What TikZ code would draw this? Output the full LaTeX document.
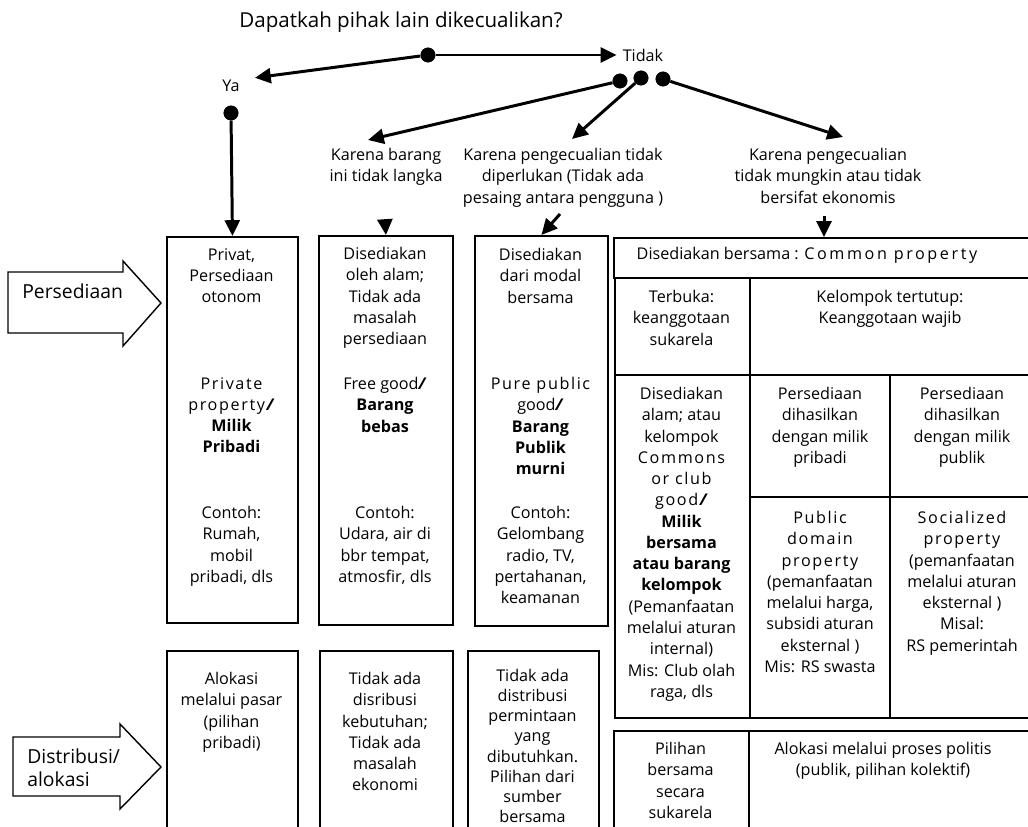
\documentclass[tikz,border=0pt]{standalone}
\usepackage{fontspec}
\setmainfont{Open Sans}
\usetikzlibrary{arrows.meta,positioning,calc}
\newcommand\bodyfont{\fontsize{9.2}{12.1}\selectfont}
\newcommand\headfont{\fontsize{11.7}{14}\selectfont}
\newcommand\sidefont{\fontsize{11}{13.6}\selectfont}
\newcommand\spaced[1]{{\addfontfeatures{LetterSpace=10}#1}}
\newcommand\slashbi{\textbf{\textit{/}}}
\tikzset{
  font=\bodyfont,
  box/.style   ={draw, line width=1.1pt, anchor=north west, inner sep=0pt},
  txt/.style   ={align=center, anchor=north, inner sep=0pt},
  lbl/.style   ={inner sep=0pt},
  dot/.style   ={circle, fill, inner sep=0pt, minimum size=8.4pt},
  flow/.style  ={-{Triangle[length=9pt,width=8.5pt]}, line width=1.7pt},
  bigarr/.style={draw, line width=0.8pt},
}

\begin{document}
\begin{tikzpicture}[x=0.02cm, y=-0.02cm]
  \useasboundingbox (0,0) rectangle (1028,827);
  \clip (0,0) rectangle (1028,827);

  % question and the two answers
  \node[lbl, font=\headfont] (quest) at (401,22) {Dapatkah pihak lain dikecualikan?};
  \node[dot] (dq) at (428,55) {};
  \node[lbl] (ya)    at (231,86) {Ya};
  \node[lbl] (tidak) at (643,55) {Tidak};
  \node[dot] (dy) at (231,113) {};
  \node[dot] (t1) at (620,81) {};
  \node[dot] (t2) at (641,78) {};
  \node[dot] (t3) at (663,79) {};

  % reasons under "Tidak"
  \node[txt] (why1) at (386,148) {Karena barang\\ini tidak langka};
  \node[txt] (why2) at (563,148) {Karena pengecualian tidak\\diperlukan (Tidak ada\\pesaing antara pengguna )};
  \node[txt] (why3) at (828,148) {Karena pengecualian\\tidak mungkin atau tidak\\bersifat ekonomis};

  % supply row
  \node[box, minimum width=2.62cm, minimum height=7.72cm] (pA) at (166,236) {};
  \node[box, minimum width=2.68cm, minimum height=7.78cm] (pB) at (318,235) {};
  \node[box, minimum width=2.66cm, minimum height=7.80cm] (pC) at (474,235) {};
  \node[box, minimum width=8.54cm, minimum height=0.80cm] (pD) at (613,237) {};
  \node[box, minimum width=2.70cm, minimum height=1.94cm] (cT)  at (614,277) {};
  \node[box, minimum width=5.82cm, minimum height=1.94cm] (cK)  at (749,277) {};
  \node[box, minimum width=2.70cm, minimum height=6.86cm] (cM)  at (614,374) {};
  \node[box, minimum width=2.80cm, minimum height=2.44cm] (cPp) at (749,374) {};
  \node[box, minimum width=3.02cm, minimum height=2.44cm] (cPu) at (889,374) {};
  \node[box, minimum width=2.80cm, minimum height=4.42cm] (cPd) at (749,496) {};
  \node[box, minimum width=3.02cm, minimum height=4.42cm] (cSo) at (889,496) {};

  \node[txt] (a1) at (231.5,248) {Privat,\\Persediaan\\otonom};
  \node[txt] (a2) at (231.5,377) {\spaced{Private}\\\spaced{property}\slashbi\\\textbf{Milik}\\\textbf{Pribadi}};
  \node[txt] (a3) at (231.5,506) {Contoh:\\Rumah,\\mobil\\pribadi, dls};
  \node[txt] (b1) at (385,247) {Disediakan\\oleh alam;\\Tidak ada\\masalah\\persediaan};
  \node[txt] (b2) at (385,377) {Free good\slashbi\\\textbf{Barang}\\\textbf{bebas}};
  \node[txt] (b3) at (385,506) {Contoh:\\Udara, air di\\bbr tempat,\\atmosfir, dls};
  \node[txt] (c1) at (540.5,248) {Disediakan\\dari modal\\bersama};
  \node[txt] (c2) at (540.5,377) {\spaced{Pure public}\\good\slashbi\\\textbf{Barang}\\\textbf{Publik}\\\textbf{murni}};
  \node[txt] (c3) at (540.5,506) {Contoh:\\Gelombang\\radio, TV,\\pertahanan,\\keamanan};
  \node[lbl] (dHead) at (807,255) {Disediakan bersama : {\addfontfeatures{LetterSpace=16}Common property}};
  \node[txt] (tTerb) at (681.5,290) {Terbuka:\\keanggotaan\\sukarela};
  \node[txt] (tKel)  at (890,290) {Kelompok tertutup:\\Keanggotaan wajib};
  \node[txt] (tCom)  at (681.5,387) {Disediakan\\alam; atau\\kelompok\\\spaced{Commons}\\\spaced{or club}\\\spaced{good}\slashbi\\\textbf{Milik}\\\textbf{bersama}\\\textbf{atau barang}\\\textbf{kelompok}\\(Pemanfaatan\\melalui aturan\\internal)\\Mis: Club olah\\raga, dls};
  \node[txt] (tPp)   at (820,387) {Persediaan\\dihasilkan\\dengan milik\\pribadi};
  \node[txt] (tPu)   at (962,387) {Persediaan\\dihasilkan\\dengan milik\\publik};
  \node[txt] (tPd)   at (820,511) {\spaced{Public}\\\spaced{domain}\\\spaced{property}\\(pemanfaatan\\melalui harga,\\subsidi aturan\\eksternal )\\Mis: RS swasta};
  \node[txt] (tSo)   at (962,511) {\spaced{Socialized}\\\spaced{property}\\(pemanfaatan\\melalui aturan\\eksternal )\\Misal:\\RS pemerintah};

  % distribution row
  \node[box, minimum width=2.62cm, minimum height=4cm]   (dA)  at (166,650) {};
  \node[box, minimum width=2.66cm, minimum height=4cm]   (dB)  at (319,650) {};
  \node[box, minimum width=2.62cm, minimum height=4cm]   (dC)  at (467,650) {};
  \node[box, minimum width=2.70cm, minimum height=2.5cm] (dD1) at (613,730) {};
  \node[box, minimum width=5.84cm, minimum height=2.5cm] (dD2) at (748,730) {};
  \node[txt] (e1) at (231.5,672) {Alokasi\\melalui pasar\\(pilihan\\pribadi)};
  \node[txt] (e2) at (385,672) {Tidak ada\\disribusi\\kebutuhan;\\Tidak ada\\masalah\\ekonomi};
  \node[txt, font=\fontsize{9.2}{11.45}\selectfont] (e3) at (532.5,669) {Tidak ada\\distribusi\\permintaan\\yang\\dibutuhkan.\\Pilihan dari\\sumber\\bersama};
  \node[txt] (e4) at (680.5,742) {Pilihan\\bersama\\secara\\sukarela};
  \node[txt] (e5) at (883,742) {Alokasi melalui proses politis\\(publik, pilihan kolektif)};

  % side arrows
  \draw[bigarr] (8,272) -- (123,272) -- (123,261) -- (161,303) -- (123,346) -- (123,333) -- (8,333) -- cycle;
  \node[lbl, anchor=west, font=\sidefont] (persed) at (22,291) {Persediaan};
  \draw[bigarr] (13,737) -- (120,737) -- (120,724) -- (161,767) -- (120,809) -- (120,796) -- (13,796) -- cycle;
  \node[lbl, anchor=north west, align=left, font=\sidefont] (distr) at (27,748) {Distribusi/\\alokasi};

  % connectors
  \coordinate (aB) at (385,221);
  \coordinate (aC) at (560,214);
  \coordinate (aD) at (824,216);
  \draw[flow] (dq) -- ([shift={(15,-2)}]ya.north east);
  \draw[flow] (dq) -- ([shift={(-6,0)}]tidak.west);
  \draw[flow] (dy) -- (pA.north);
  \draw[flow] (t1) -- ([shift={(-18,-8)}]why1.north);
  \draw[flow] (t2) -- ([shift={(9,-9)}]why2.north);
  \draw[flow] (t3) -- ([shift={(15,-11)}]why3.north);
  \draw[flow] (aB) -- (pB.north);
  \draw[flow] (aC) -- (pC.north);
  \draw[flow] (aD) -- (aD |- pD.north);
  \foreach \d in {dq,dy,t1,t2,t3} \node[dot] at (\d) {};
\end{tikzpicture}
\end{document}
